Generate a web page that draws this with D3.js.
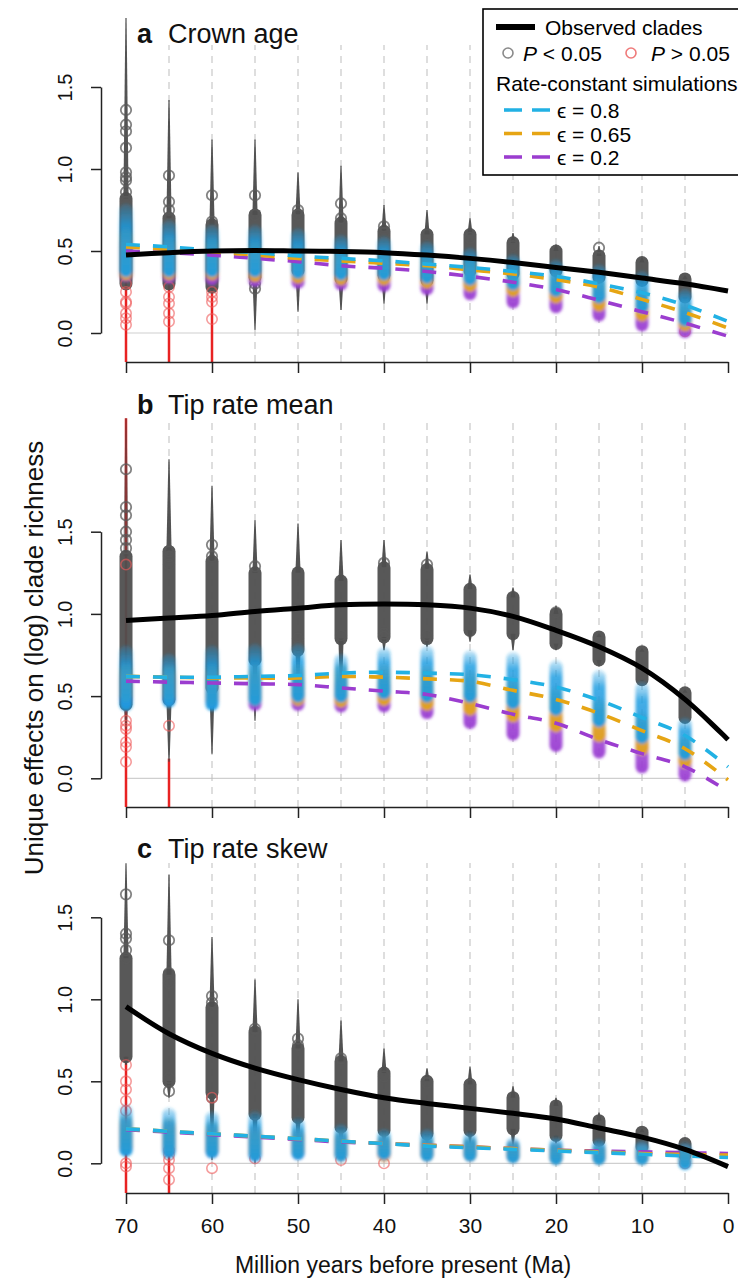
<!DOCTYPE html>
<html>
<head>
<meta charset="utf-8">
<script src="https://cdn.jsdelivr.net/npm/d3@7"></script>
<style>
  body { margin: 0; background: #fff; }
  svg { display: block; font-family: "Liberation Sans", Arial, Helvetica, sans-serif; }
</style>
</head>
<body>
<svg id="chart" width="738" height="1279"></svg>
<script>
// time slices (Ma) where clade sets were sampled, and where the fitted curves are read
const sliceTimes = [70, 65, 60, 55, 50, 45, 40, 35, 30, 25, 20, 15, 10, 5];
const curveTimes = [70, 65, 60, 55, 50, 45, 40, 35, 30, 25, 20, 15, 10, 5, 0];
const xTicks = [70, 60, 50, 40, 30, 20, 10, 0];
const yTicks = [0, 0.5, 1, 1.5];

// ---- a: crown age ----
const crownObs   = [0.476, 0.49, 0.50, 0.503, 0.50, 0.497, 0.49, 0.475, 0.455, 0.43, 0.40, 0.37, 0.335, 0.30, 0.256];
const crownSim08  = [0.54, 0.525, 0.505, 0.49, 0.47, 0.455, 0.44, 0.42, 0.40, 0.375, 0.345, 0.30, 0.245, 0.17, 0.07];
const crownSim065 = [0.525, 0.51, 0.495, 0.475, 0.455, 0.44, 0.425, 0.41, 0.385, 0.36, 0.325, 0.28, 0.205, 0.125, 0.03];
const crownSim02  = [0.50, 0.49, 0.475, 0.455, 0.435, 0.41, 0.395, 0.375, 0.345, 0.31, 0.265, 0.20, 0.13, 0.06, -0.02];
const crownThin = [[0.30, 1.92], [0.30, 1.42], [0.25, 1.18], [0.02, 1.18], [0.13, 0.98], [0.14, 1.02], [0.18, 0.78],
                   [0.18, 0.75], [0.30, 0.70], [0.30, 0.61], [0.30, 0.54], [0.30, 0.53], [0.28, 0.46], [0.20, 0.35]];
const crownCore = [[0.30, 0.82], [0.30, 0.70], [0.28, 0.66], [0.34, 0.72], [0.38, 0.72], [0.33, 0.67], [0.35, 0.62],
                   [0.32, 0.60], [0.38, 0.60], [0.36, 0.55], [0.38, 0.50], [0.34, 0.47], [0.32, 0.43], [0.22, 0.33]];
const crownRings = [[1.36, 1.27, 1.23, 1.13, 0.98, 0.95, 0.93, 0.86, 0.80], [0.96, 0.80, 0.75, 0.70, 0.66], [0.84, 0.68],
                    [0.84, 0.72, 0.30, 0.27], [0.75, 0.72], [0.79, 0.70], [0.65, 0.61], [0.60], [0.58], [0.53], [], [0.52], [], []];
const crownRedThin = [[-0.2, 0.32], [-0.2, 0.30], [-0.2, 0.25], null, null, null, null, null, null, null, null, null, null, null];
const crownRedRings = [[0.30, 0.25, 0.19, 0.18, 0.12, 0.09, 0.05], [0.28, 0.22, 0.18, 0.12, 0.07], [0.25, 0.22, 0.19, 0.085],
                       [], [], [], [], [], [], [], [], [], [], [0.01]];
const crownCore08  = [[0.38, 0.75], [0.38, 0.65], [0.38, 0.62], [0.38, 0.62], [0.37, 0.60], [0.36, 0.56], [0.36, 0.55],
                      [0.34, 0.52], [0.33, 0.48], [0.30, 0.44], [0.26, 0.41], [0.22, 0.38], [0.16, 0.34], [0.08, 0.23]];
const crownCore065 = [[0.36, 0.60], [0.36, 0.55], [0.36, 0.54], [0.35, 0.52], [0.34, 0.50], [0.33, 0.48], [0.33, 0.47],
                      [0.31, 0.45], [0.29, 0.42], [0.26, 0.38], [0.22, 0.34], [0.17, 0.30], [0.11, 0.25], [0.05, 0.16]];
const crownCore02  = [[0.35, 0.55], [0.34, 0.52], [0.33, 0.50], [0.32, 0.48], [0.31, 0.46], [0.30, 0.44], [0.29, 0.42],
                      [0.27, 0.40], [0.24, 0.36], [0.19, 0.32], [0.16, 0.28], [0.11, 0.23], [0.05, 0.17], [0.01, 0.10]];

// ---- b: tip rate mean ----
const meanObs   = [0.96, 0.975, 0.99, 1.015, 1.035, 1.055, 1.06, 1.055, 1.035, 0.985, 0.90, 0.80, 0.67, 0.48, 0.235];
const meanSim08  = [0.62, 0.615, 0.615, 0.62, 0.625, 0.64, 0.645, 0.64, 0.63, 0.60, 0.555, 0.475, 0.37, 0.26, 0.07];
const meanSim065 = [0.62, 0.615, 0.61, 0.61, 0.61, 0.62, 0.615, 0.605, 0.59, 0.535, 0.48, 0.395, 0.29, 0.18, -0.01];
const meanSim02  = [0.59, 0.585, 0.58, 0.575, 0.57, 0.55, 0.53, 0.51, 0.455, 0.39, 0.335, 0.235, 0.15, 0.07, -0.08];
const meanThin = [[0.30, 2.19], [0.10, 1.94], [0.15, 1.78], [0.35, 1.57], [0.45, 1.55], [0.45, 1.45], [0.78, 1.45],
                  [0.80, 1.38], [0.83, 1.24], [0.78, 1.16], [0.78, 1.05], [0.68, 0.88], [0.59, 0.79], [0.37, 0.54]];
const meanCore = [[0.45, 1.35], [0.48, 1.38], [0.55, 1.32], [0.72, 1.25], [0.78, 1.25], [0.85, 1.20], [0.86, 1.28],
                  [0.85, 1.27], [0.90, 1.15], [0.88, 1.10], [0.82, 1.00], [0.72, 0.86], [0.60, 0.77], [0.37, 0.52]];
const meanRings = [[1.88, 1.65, 1.60, 1.50, 1.45, 1.40], [1.38, 1.35, 1.30], [1.42, 1.35], [1.29], [0.85, 0.80], [0.87],
                   [1.31, 0.88, 0.86], [1.30, 0.87], [], [], [1.01], [], [], []];
const meanRedThin = [[-0.2, 2.19], [-0.2, 0.12], null, null, null, null, null, null, null, null, null, null, null, null];
const meanRedRings = [[1.30, 0.35, 0.32, 0.30, 0.22, 0.19, 0.10], [0.32], [], [], [], [], [], [], [], [], [], [], [], []];
const meanCore08  = [[0.45, 0.77], [0.47, 0.72], [0.45, 0.77], [0.48, 0.78], [0.50, 0.78], [0.50, 0.72], [0.52, 0.76],
                     [0.50, 0.77], [0.50, 0.74], [0.46, 0.73], [0.42, 0.68], [0.35, 0.62], [0.25, 0.55], [0.15, 0.33]];
const meanCore065 = [[0.50, 0.66], [0.50, 0.65], [0.48, 0.65], [0.48, 0.66], [0.48, 0.66], [0.47, 0.66], [0.48, 0.66],
                     [0.45, 0.65], [0.42, 0.62], [0.38, 0.58], [0.32, 0.52], [0.26, 0.45], [0.18, 0.36], [0.10, 0.22]];
const meanCore02  = [[0.48, 0.62], [0.48, 0.62], [0.47, 0.62], [0.45, 0.60], [0.45, 0.60], [0.44, 0.58], [0.44, 0.57],
                     [0.40, 0.55], [0.34, 0.50], [0.27, 0.44], [0.20, 0.38], [0.16, 0.30], [0.07, 0.22], [0.02, 0.12]];

// ---- c: tip rate skew ----
const skewObs   = [0.955, 0.79, 0.67, 0.58, 0.51, 0.45, 0.40, 0.365, 0.335, 0.305, 0.27, 0.215, 0.16, 0.085, -0.02];
const skewSim08  = [0.21, 0.195, 0.18, 0.165, 0.15, 0.135, 0.12, 0.105, 0.095, 0.085, 0.075, 0.065, 0.055, 0.045, 0.035];
const skewSim065 = [0.21, 0.195, 0.18, 0.165, 0.15, 0.135, 0.12, 0.11, 0.10, 0.09, 0.08, 0.07, 0.06, 0.055, 0.05];
const skewSim02  = [0.205, 0.19, 0.175, 0.16, 0.145, 0.13, 0.12, 0.11, 0.10, 0.09, 0.08, 0.075, 0.07, 0.065, 0.06];
const skewThin = [[0.60, 1.83], [0.40, 1.76], [0.02, 1.38], [0.00, 1.12], [0.05, 1.00], [0.04, 0.87], [0.10, 0.70],
                  [0.10, 0.58], [0.12, 0.59], [0.10, 0.47], [0.12, 0.40], [0.10, 0.31], [0.07, 0.21], [0.03, 0.13]];
const skewCore = [[0.65, 1.25], [0.50, 1.15], [0.43, 0.95], [0.30, 0.80], [0.28, 0.70], [0.22, 0.62], [0.20, 0.55],
                  [0.18, 0.50], [0.20, 0.48], [0.21, 0.40], [0.17, 0.35], [0.14, 0.26], [0.10, 0.19], [0.05, 0.12]];
const skewRings = [[1.64, 1.40, 1.37, 1.30, 1.25], [1.36, 1.16, 1.10, 0.52, 0.44], [1.02, 0.98, 0.40], [0.82, 0.30],
                   [0.76, 0.72], [0.64], [0.53], [0.49], [0.48], [], [], [], [], []];
const skewRedThin = [[-0.2, 0.65], [-0.2, 0.10], null, null, null, null, null, null, null, null, null, null, null, null];
const skewRedRings = [[0.60, 0.50, 0.45, 0.38, 0.32, 0.0, -0.02], [0.08, 0.05, 0.02, -0.03, -0.10], [0.40, -0.03], [0.03],
                      [], [0.02], [0.0], [], [], [], [], [], [], [0.0]];
const skewCore08  = [[0.08, 0.32], [0.07, 0.30], [0.07, 0.28], [0.05, 0.28], [0.06, 0.24], [0.05, 0.20], [0.06, 0.17],
                     [0.05, 0.17], [0.05, 0.15], [0.04, 0.12], [0.03, 0.12], [0.03, 0.11], [0.03, 0.10], [0.00, 0.09]];
const skewCore065 = [[0.10, 0.26], [0.09, 0.24], [0.08, 0.22], [0.06, 0.20], [0.07, 0.18], [0.05, 0.16], [0.05, 0.14],
                     [0.05, 0.13], [0.05, 0.12], [0.04, 0.10], [0.03, 0.09], [0.03, 0.08], [0.03, 0.08], [0.01, 0.07]];
const skewCore02  = [[0.09, 0.24], [0.08, 0.22], [0.07, 0.20], [0.05, 0.19], [0.06, 0.17], [0.05, 0.15], [0.05, 0.13],
                     [0.05, 0.12], [0.05, 0.11], [0.04, 0.10], [0.03, 0.09], [0.03, 0.08], [0.03, 0.08], [0.01, 0.07]];

const simLabels = ["\u03F5 = 0.8", "\u03F5 = 0.65", "\u03F5 = 0.2"];
const simColors = ["#22b1e4", "#e6a514", "#9b3dcf"];
const simFill   = ["#1c9be0", "#e3a51a", "#9a3ed2"];

const panels = [
  { letter: "a", title: "Crown age", obs: crownObs, sims: [crownSim08, crownSim065, crownSim02],
    thin: crownThin, core: crownCore, rings: crownRings, redThin: crownRedThin, redRings: crownRedRings,
    simCores: [crownCore08, crownCore065, crownCore02] },
  { letter: "b", title: "Tip rate mean", obs: meanObs, sims: [meanSim08, meanSim065, meanSim02],
    thin: meanThin, core: meanCore, rings: meanRings, redThin: meanRedThin, redRings: meanRedRings,
    simCores: [meanCore08, meanCore065, meanCore02] },
  { letter: "c", title: "Tip rate skew", obs: skewObs, sims: [skewSim08, skewSim065, skewSim02],
    thin: skewThin, core: skewCore, rings: skewRings, redThin: skewRedThin, redRings: skewRedRings,
    simCores: [skewCore08, skewCore065, skewCore02] }
];

// pixel layout of the three stacked panels
const layout = [
  { zero: 333, top15: 87, axisY: 362, clipTop: 12, dashTop: 45, titleY: 43 },
  { zero: 778.3, top15: 531.7, axisY: 807, clipTop: 416, dashTop: 420, titleY: 414 },
  { zero: 1163.3, top15: 917.3, axisY: 1193, clipTop: 860, dashTop: 863, titleY: 858 }
];

const svg = d3.select("#chart");
const x = d3.scaleLinear().domain([70, 0]).range([126, 728]);
const defs = svg.append("defs");
defs.append("filter").attr("id", "soft").append("feGaussianBlur").attr("stdDeviation", 1.4);

// simulated columns fade out towards their upper end
simFill.forEach((c, s) => {
  const gr = defs.append("linearGradient").attr("id", "simgrad" + s)
    .attr("x1", 0).attr("x2", 0).attr("y1", 0).attr("y2", 1);
  gr.append("stop").attr("offset", 0).attr("stop-color", c).attr("stop-opacity", 0.2);
  gr.append("stop").attr("offset", 0.3).attr("stop-color", c).attr("stop-opacity", 0.82);
  gr.append("stop").attr("offset", 1).attr("stop-color", c).attr("stop-opacity", 0.97);
});

const colW = 13;

// tapered whisker from the core end (wide) to the tip (narrow)
function whisker(xc, yFrom, yTo) {
  return `M${xc - 2.6},${yFrom}L${xc - 0.6},${yTo}L${xc + 0.6},${yTo}L${xc + 2.6},${yFrom}Z`;
}

panels.forEach((p, i) => {
  const L = layout[i];
  const y = d3.scaleLinear().domain([0, 1.5]).range([L.zero, L.top15]);
  const yBottom = y.invert(L.axisY);

  defs.append("clipPath").attr("id", "clip" + i)
    .append("rect").attr("x", 100).attr("y", L.clipTop)
    .attr("width", 650).attr("height", L.axisY - L.clipTop);

  const g = svg.append("g").attr("clip-path", `url(#clip${i})`);

  // zero reference line
  g.append("line")
    .attr("x1", x(70)).attr("x2", x(0)).attr("y1", y(0)).attr("y2", y(0))
    .attr("stroke", "#cfcfcf").attr("stroke-width", 1.2);

  // dashed guides at every slice except the oldest
  g.selectAll(".guide").data(sliceTimes.slice(1)).join("line")
    .attr("x1", d => x(d)).attr("x2", d => x(d))
    .attr("y1", y(yBottom)).attr("y2", y(y.invert(L.dashTop)))
    .attr("stroke", "#bdbdbd").attr("stroke-width", 1).attr("stroke-dasharray", "7,6");

  // non-significant (red) whiskers
  g.selectAll(".redthin").data(sliceTimes.map((t, k) => ({ t, r: p.redThin[k] })).filter(d => d.r))
    .join("line")
    .attr("x1", d => x(d.t)).attr("x2", d => x(d.t))
    .attr("y1", d => y(d.r[0])).attr("y2", d => y(d.r[1]))
    .attr("stroke", "#e82222").attr("stroke-width", 2.5);

  // observed whiskers, tapering away from the dense core
  const wd = sliceTimes.map((t, k) => ({ t, r: p.thin[k], c: p.core[k] }));
  const wOpacity = d => (d.t === 70 && p.redThin[0] && p.redThin[0][1] > 1) ? 0.6 : 0.92;
  g.selectAll(".whiskUp").data(wd).join("path")
    .attr("d", d => whisker(x(d.t), y(d.c[1]), y(d.r[1])))
    .attr("fill", "#444").attr("opacity", wOpacity);
  g.selectAll(".whiskDown").data(wd.filter(d => d.r[0] < d.c[0])).join("path")
    .attr("d", d => whisker(x(d.t), y(d.c[0]), y(d.r[0])))
    .attr("fill", "#444").attr("opacity", wOpacity);

  // observed dense cores
  g.selectAll(".core").data(sliceTimes.map((t, k) => ({ t, r: p.core[k] })))
    .join("rect")
    .attr("x", d => x(d.t) - colW / 2).attr("width", colW)
    .attr("y", d => y(d.r[1]) - colW / 2)
    .attr("height", d => y(d.r[0]) - y(d.r[1]) + colW)
    .attr("rx", colW / 2)
    .attr("fill", "#4f4f4f").attr("opacity", 0.95);

  // observed outlying rings
  const rings = sliceTimes.flatMap((t, k) => p.rings[k].map(v => ({ t, v })));
  g.selectAll(".ring").data(rings).join("circle")
    .attr("cx", d => x(d.t)).attr("cy", d => y(d.v)).attr("r", 5.2)
    .attr("fill", "none").attr("stroke", "#5a5a5a").attr("stroke-width", 1.8).attr("opacity", 0.75);

  const redRings = sliceTimes.flatMap((t, k) => p.redRings[k].map(v => ({ t, v })));
  g.selectAll(".redring").data(redRings).join("circle")
    .attr("cx", d => x(d.t)).attr("cy", d => y(d.v)).attr("r", 5.2)
    .attr("fill", "none").attr("stroke", "#ef5a5a").attr("stroke-width", 1.6).attr("opacity", 0.6);

  // simulated clade cores: purple, orange, then blue on top
  const simG = g.append("g").attr("filter", "url(#soft)");
  [2, 1, 0].forEach(s => {
    simG.selectAll(".sim" + s).data(sliceTimes.map((t, k) => ({ t, r: p.simCores[s][k] })))
      .join("rect")
      .attr("x", d => x(d.t) - colW / 2).attr("width", colW)
      .attr("y", d => y(d.r[1]) - colW / 2)
      .attr("height", d => y(d.r[0]) - y(d.r[1]) + colW)
      .attr("rx", colW / 2)
      .attr("fill", `url(#simgrad${s})`);
  });

  // rate-constant expectation lines
  const line = d3.line().x((d, k) => x(curveTimes[k])).y(d => y(d)).curve(d3.curveCatmullRom);
  [2, 1, 0].forEach(s => {
    g.append("path").datum(p.sims[s]).attr("d", line)
      .attr("fill", "none").attr("stroke", simColors[s]).attr("stroke-width", 3.6)
      .attr("stroke-dasharray", "14,13");
  });

  g.append("path").datum(p.obs).attr("d", line)
    .attr("fill", "none").attr("stroke", "#000").attr("stroke-width", 5);

  // axes
  const xAxis = d3.axisBottom(x).tickValues(xTicks).tickSize(11).tickSizeOuter(0).tickPadding(14)
    .tickFormat(i === 2 ? d3.format("d") : () => "");
  const xg = svg.append("g").attr("transform", `translate(0,${L.axisY})`).call(xAxis);
  xg.select(".domain").attr("stroke", "#222").attr("stroke-width", 1.5);
  xg.selectAll(".tick line").attr("stroke", "#222").attr("stroke-width", 1.5);
  xg.selectAll("text").attr("font-size", 21).attr("font-family", "Liberation Sans, Arial, sans-serif").attr("fill", "#111");

  const yAxis = d3.axisLeft(y).tickValues(yTicks).tickSize(10).tickSizeOuter(0).tickFormat(d3.format(".1f"));
  const yg = svg.append("g").attr("transform", "translate(101,0)").call(yAxis);
  yg.select(".domain").attr("stroke", "#222").attr("stroke-width", 1.5);
  yg.selectAll(".tick line").attr("stroke", "#222").attr("stroke-width", 1.5);
  yg.selectAll("text")
    .attr("transform", "rotate(-90)").attr("x", 0).attr("y", -29).attr("dy", 0)
    .attr("text-anchor", "middle")
    .attr("font-size", 20).attr("font-family", "Liberation Sans, Arial, sans-serif").attr("fill", "#111");

  // panel title
  const t = svg.append("text").attr("y", L.titleY).attr("font-size", 27).attr("fill", "#111");
  t.append("tspan").attr("x", 137).attr("font-weight", "bold").text(p.letter);
  t.append("tspan").attr("x", 168).text(p.title);
});

// shared axis titles
svg.append("text")
  .attr("transform", "translate(43,658) rotate(-90)")
  .attr("text-anchor", "middle").attr("font-size", 26).attr("fill", "#111")
  .text("Unique effects on (log) clade richness");

svg.append("text")
  .attr("x", 403).attr("y", 1273).attr("text-anchor", "middle")
  .attr("font-size", 23).attr("fill", "#111")
  .text("Million years before present (Ma)");

// legend
const lg = svg.append("g");
lg.append("rect").attr("x", 483).attr("y", 9).attr("width", 280).attr("height", 166)
  .attr("fill", "#fff").attr("stroke", "#000").attr("stroke-width", 1.6);
lg.append("line").attr("x1", 496).attr("x2", 535).attr("y1", 27).attr("y2", 27)
  .attr("stroke", "#000").attr("stroke-width", 6);
lg.append("text").attr("x", 545).attr("y", 35).attr("font-size", 21).text("Observed clades");

lg.append("circle").attr("cx", 508).attr("cy", 53).attr("r", 5)
  .attr("fill", "none").attr("stroke", "#8a8a8a").attr("stroke-width", 1.6);
const pl = lg.append("text").attr("x", 523).attr("y", 61).attr("font-size", 21);
pl.append("tspan").attr("font-style", "italic").text("P");
pl.append("tspan").text(" < 0.05");
lg.append("circle").attr("cx", 631).attr("cy", 53).attr("r", 5)
  .attr("fill", "none").attr("stroke", "#ef7a7a").attr("stroke-width", 1.6);
const pg = lg.append("text").attr("x", 651).attr("y", 61).attr("font-size", 21);
pg.append("tspan").attr("font-style", "italic").text("P");
pg.append("tspan").text(" > 0.05");

lg.append("text").attr("x", 496).attr("y", 91).attr("font-size", 21).text("Rate-constant simulations");

simLabels.forEach((lab, s) => {
  const yy = 110 + s * 23.5;
  lg.append("line").attr("x1", 504).attr("x2", 550).attr("y1", yy).attr("y2", yy)
    .attr("stroke", simColors[s]).attr("stroke-width", 3.6).attr("stroke-dasharray", "18,10");
  lg.append("text").attr("x", 557).attr("y", yy + 8).attr("font-size", 21).text(lab);
});
</script>
</body>
</html>
